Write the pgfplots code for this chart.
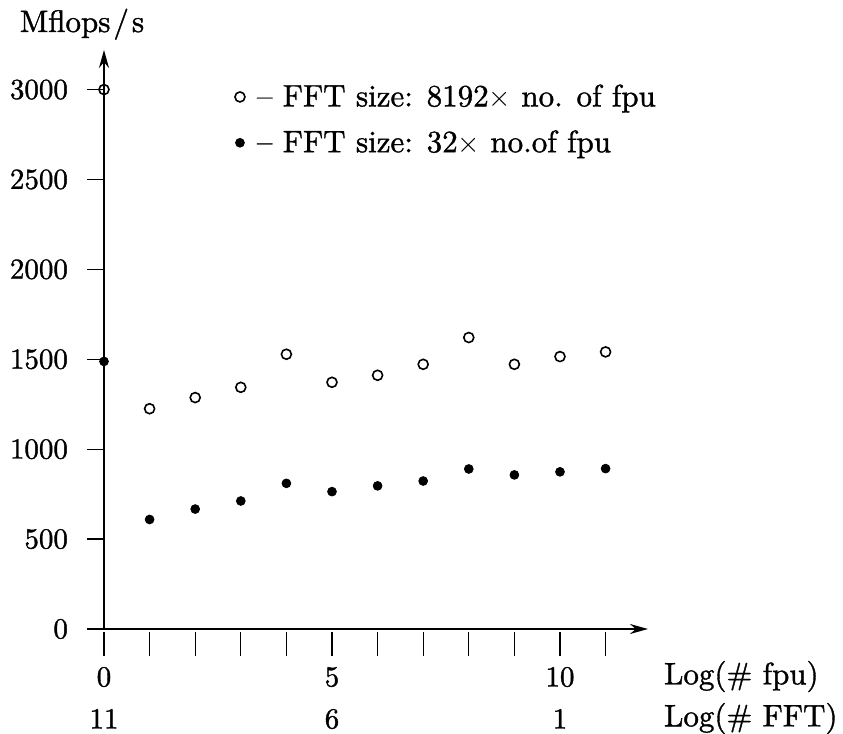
\documentclass[border=0pt]{standalone}
\usepackage{fontspec}
\setmainfont{lmroman10-regular.otf}[FakeBold=1.2]
\usepackage{pgfplots}
\pgfplotsset{compat=1.18}
\usetikzlibrary{arrows.meta}
\newcommand{\chartfont}{\fontsize{14.5}{17.5}\selectfont}
\newcommand{\bigfont}{\fontsize{15.5}{18.5}\selectfont}
\begin{document}
\begin{tikzpicture}
\begin{axis}[
  scale only axis,
  width=272pt, height=289.5pt,
  xmin=0, xmax=11.93, ymin=0, ymax=3220,
  axis lines=left,
  axis line style={line width=1pt, -{Stealth[length=9pt,width=5pt]}},
  tick align=outside,
  font=\chartfont,
  /pgf/number format/assume math mode=true,
  xtick=\empty, ytick=\empty,
  major tick length=12pt,
  extra x ticks={0,1,2,3,4,5,6,7,8,9,10,11},
  extra x tick labels={0\\[3.5pt]11,,,,,5\\[3.5pt]6,,,,,10\\[3.5pt]1,},
  extra x tick style={tick style={line width=0.6pt, black, yshift=-1.5pt},
     xticklabel style={align=center, font=\chartfont, yshift=-3.5pt}},
  extra y ticks={0,500,1000,1500,2000,2500,3000},
  extra y tick labels={0,500,1000,1500,2000,2500,3000},
  extra y tick style={major tick length=8.5pt, tick style={line width=0.6pt, black},
     yticklabel style={font=\chartfont, xshift=-6pt}},
  ylabel={Mflops\kern1.5pt/\kern1.5pt s},
  ylabel style={font=\bigfont, rotate=-90, at={(axis description cs:0,1)}, anchor=base, xshift=-11pt, yshift=9pt},
  xlabel={Log(\#\ fpu)\\[2.5pt]Log(\#\ FFT)},
  xlabel style={font=\bigfont, align=left, at={(axis description cs:1,0)}, anchor=north west, xshift=4.5pt, yshift=-12.5pt},
  legend style={at={(axis description cs:0.24,0.948)}, anchor=north west, draw=none, fill=none,
     font=\bigfont, row sep=6.5pt, inner sep=0pt},
  legend cell align=left,
  legend image code/.code={\draw[#1] plot coordinates {(0.2cm,0cm)};},
  clip=false,
]
\addplot[only marks, mark=o, mark size=2.5pt, line width=0.8pt, black] coordinates {
(0,3000) (1,1225) (2,1287) (3,1344) (4,1528) (5,1372) (6,1411) (7,1472) (8,1621) (9,1472) (10,1515) (11,1541)};
\addlegendentry{\hspace{4pt}\textendash{} FFT size: 8192$\times$ no. of fpu}
\addplot[only marks, mark=*, mark size=2.2pt, black] coordinates {
(0,1488) (1,609) (2,667) (3,712) (4,810) (5,764) (6,796) (7,823) (8,890) (9,857) (10,874) (11,892)};
\addlegendentry{\hspace{4pt}\textendash{} FFT size: 32$\times$ no.of fpu}
\end{axis}
\pgfresetboundingbox
\path (-52pt,-52.5pt) rectangle (369.5pt,314.5pt);
\end{tikzpicture}
\end{document}
